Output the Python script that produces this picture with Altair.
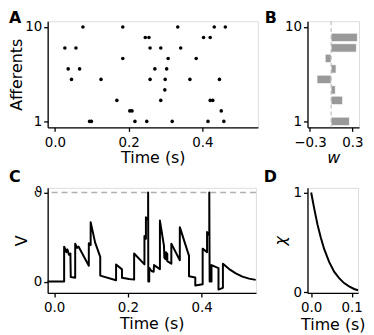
import altair as alt
import pandas as pd

FONT = "DejaVu Sans"

# ---------------- Panel A: spike raster ----------------
spike_afferent = [10, 10, 10, 10, 10,
                  9, 9, 9, 9,
                  8, 8, 8, 8, 8,
                  7, 7, 7,
                  6, 6, 6, 6,
                  5, 5, 5, 5, 5, 5,
                  4,
                  3, 3, 3, 3,
                  2, 2, 2,
                  1, 1, 1, 1, 1, 1, 1]
spike_time = [0.076, 0.184, 0.333, 0.432, 0.462,
              0.245, 0.255, 0.403, 0.421,
              0.027, 0.057, 0.258, 0.287, 0.341,
              0.184, 0.307, 0.383,
              0.036, 0.067, 0.271, 0.303,
              0.045, 0.125, 0.258, 0.299, 0.366, 0.446,
              0.298,
              0.168, 0.287, 0.421, 0.428,
              0.203, 0.209, 0.451,
              0.094, 0.099, 0.217, 0.249, 0.318, 0.415, 0.458]

# ---------------- Panel B: synaptic weights ----------------
afferents = [1, 2, 3, 4, 5, 6, 7, 8, 9, 10]
weights = [0.26, 0.0, 0.163, 0.06, -0.2, 0.07, -0.084, 0.358, 0.372, 0.0]

# ---------------- Panel C: membrane potential ----------------
trace_t = [-0.018, 0.027, 0.027, 0.031, 0.033, 0.036, 0.040, 0.044, 0.045,
           0.057, 0.057, 0.062, 0.066, 0.094, 0.094, 0.099, 0.099, 0.111,
           0.125, 0.125, 0.168, 0.168, 0.184, 0.184, 0.203, 0.217, 0.217,
           0.245, 0.245, 0.249, 0.249, 0.255, 0.255, 0.2555, 0.258, 0.258,
           0.264, 0.270, 0.271, 0.287, 0.287, 0.298, 0.299, 0.303, 0.303,
           0.307, 0.307, 0.318, 0.318, 0.341, 0.341, 0.366, 0.366, 0.383,
           0.383, 0.403, 0.403, 0.415, 0.415, 0.421, 0.421, 0.422, 0.427,
           0.427, 0.446, 0.446, 0.458, 0.458, 0.475, 0.493, 0.511, 0.529, 0.547]
trace_v = [0.0, 0.0, 0.39, 0.36, 0.33, 0.36, 0.30, 0.315, 0.052,
           0.044, 0.426, 0.378, 0.393, 0.178, 0.43, 0.41, 0.667, 0.44,
           0.278, 0.067, 0.015, 0.193, 0.137, 0.044, 0.028, 0.022, 0.315,
           0.193, 0.511, 0.48, 0.722, 0.69, 1.0, 0.0, 0.0, 0.156,
           0.119, 0.11, 0.185, 0.14, 0.685, 0.40, 0.27, 0.25, 0.33,
           0.31, 0.23, 0.20, 0.426, 0.24, 0.611, 0.289, 0.06, 0.045,
           -0.044, -0.03, 0.37, 0.33, 0.556, 0.519, 1.0, 0.0, 0.0,
           0.185, 0.15, -0.09, -0.07, 0.20, 0.14, 0.093, 0.056, 0.033, 0.019]
threshold = 1.0

# ---------------- Panel D: kernel ----------------
kernel_t = [0.0, 0.0073, 0.0155, 0.0237, 0.032, 0.0443, 0.0567, 0.069, 0.0813, 0.0936, 0.106, 0.1158]
kernel_v = [1.0, 0.843, 0.68, 0.549, 0.434, 0.304, 0.206, 0.141, 0.092, 0.059, 0.033, 0.02]


def axis(**kw):
    base = dict(domainColor="black", domainWidth=1.3, tickColor="black", tickWidth=1.3,
                tickSize=4, labelPadding=2, labelFontSize=13.5, labelColor="black",
                titleFontSize=16, titleColor="black", titleFontWeight="normal", grid=False,
                labelFont=FONT, titleFont=FONT, labelFlush=False)
    base.update(kw)
    return alt.Axis(**base)


def xaxis(title_pad=1, **kw):
    return axis(labelPadding=4, titlePadding=title_pad, **kw)


def letter(ch, dx, dy):
    return alt.Chart(pd.DataFrame({"l": [ch]})).mark_text(
        align="left", baseline="top", fontSize=16, fontWeight="bold", font=FONT, color="black"
    ).encode(text="l:N", x=alt.value(dx), y=alt.value(dy))


aff_scale = alt.Scale(domain=[0.43, 10.54], nice=False, zero=False)

# Panel A
raster_df = pd.DataFrame({"t": spike_time, "aff": spike_afferent})
pointsA = alt.Chart(raster_df).mark_circle(size=13, color="black", opacity=1).encode(
    x=alt.X("t:Q", scale=alt.Scale(domain=[-0.0196, 0.5503], nice=False, zero=False),
            axis=xaxis(values=[0, 0.2, 0.4], format=".1f", title="Time (s)")),
    y=alt.Y("aff:Q", scale=aff_scale,
            axis=axis(values=[1, 10], format="d", title="Afferents", titlePadding=0)),
)
A = alt.layer(pointsA, letter("A", -39, -11)).properties(width=212, height=107)

# Panel B
w_df = pd.DataFrame({"aff": afferents, "w": weights})
w_scale = alt.Scale(domain=[-0.335, 0.396], nice=False, zero=False)
barsB = alt.Chart(w_df).transform_calculate(
    lo="datum.aff - 0.4", hi="datum.aff + 0.4", base="0"
).mark_bar(color="#999999", stroke="white", strokeWidth=0.7).encode(
    x=alt.X("w:Q", scale=w_scale,
            axis=xaxis(values=[-0.3, 0.3], format=".1f", title="w", titleFontStyle="italic")),
    x2="base:Q",
    y=alt.Y("lo:Q", scale=aff_scale, axis=axis(values=[1, 10], format="d", title=None)),
    y2="hi:Q",
)
ruleB = alt.Chart(pd.DataFrame({"z": [0]})).mark_rule(
    color="#b0b0b0", strokeDash=[4, 3], strokeWidth=1
).encode(x=alt.datum(0))
B = alt.layer(barsB, ruleB, letter("B", -43, -11)).properties(width=52, height=107)

# Panel C
trace_df = pd.DataFrame({"t": trace_t, "v": trace_v, "i": list(range(len(trace_t)))})
lineC = alt.Chart(trace_df).mark_line(color="black", strokeWidth=2, strokeJoin="round").encode(
    x=alt.X("t:Q", scale=alt.Scale(domain=[-0.0177, 0.5476], nice=False, zero=False),
            axis=xaxis(values=[0, 0.2, 0.4], format=".1f", title="Time (s)")),
    y=alt.Y("v:Q", scale=alt.Scale(domain=[-0.128, 1.052], nice=False, zero=False),
            axis=axis(values=[0, 1], labelExpr="datum.value == 1 ? 'ϑ' : '0'", title="V", titlePadding=4)),
    order="i:Q",
)
ruleC = alt.Chart(pd.DataFrame({"th": [threshold]})).mark_rule(
    color="#b0b0b0", strokeDash=[6, 4], strokeWidth=1.5
).encode(y=alt.datum(threshold))
C = alt.layer(ruleC, lineC, letter("C", -39, -19)).properties(width=210, height=106)

# Panel D
kernel_df = pd.DataFrame({"t": kernel_t, "v": kernel_v})
lineD = alt.Chart(kernel_df).mark_line(color="black", strokeWidth=2).encode(
    x=alt.X("t:Q", scale=alt.Scale(domain=[-0.0091, 0.1158], nice=False, zero=False),
            axis=xaxis(title_pad=2.5, values=[0, 0.1], format=".1f", title="Time (s)")),
    y=alt.Y("v:Q", scale=alt.Scale(domain=[-0.007, 1.046], nice=False, zero=False),
            axis=axis(values=[0, 1], format="d", title="χ", titleFontStyle="italic", titlePadding=5)),
)
D = alt.layer(lineD, letter("D", -44, -19)).properties(width=51, height=106)

chart = alt.concat(
    A, B, C, D, columns=2, spacing={"row": 61, "column": 50}, bounds="flush"
).properties(padding=0).configure_view(strokeWidth=0).configure(font=FONT)

chart.save("out.html", embed_options={"renderer": "svg", "actions": False})
